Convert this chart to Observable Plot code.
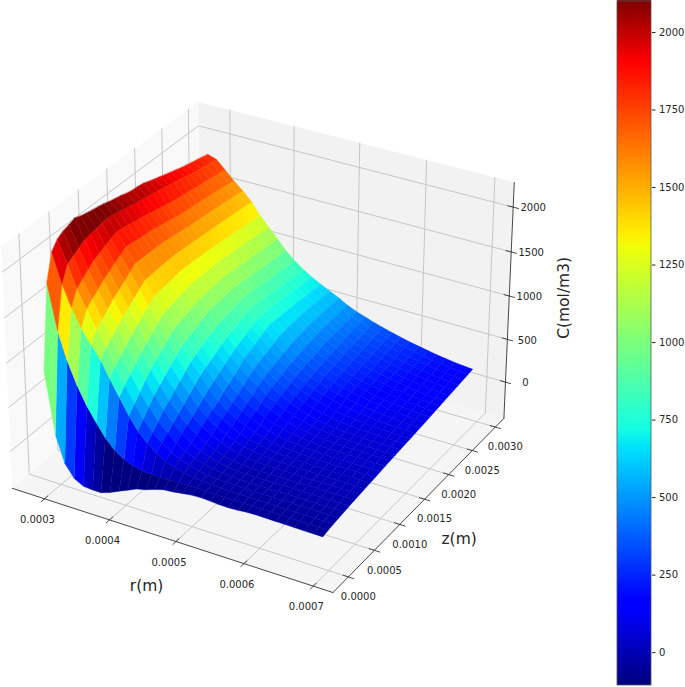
<!DOCTYPE html>
<html><head><meta charset="utf-8">
<script src="https://cdn.jsdelivr.net/npm/d3@7"></script>
<script src="https://cdn.jsdelivr.net/npm/@observablehq/plot@0.6"></script>
<style>
html,body{margin:0;padding:0;background:#fff}
#fig{position:relative;width:685px;height:687px;overflow:hidden}
#fig svg{position:absolute;top:0;overflow:visible;background:transparent}
</style></head><body><div id="fig"></div>
<script>
const rGrid=[0.000280,0.000294,0.000307,0.000321,0.000335,0.000349,0.000362,0.000376,0.000390,0.000403,0.000417,0.000431,0.000444,0.000458,0.000472,0.000486,0.000499,0.000513,0.000527,0.000540,0.000554,0.000568,0.000581,0.000595,0.000609,0.000623,0.000636,0.000650,0.000664,0.000677,0.000691];
const zGrid=[0,0.0001,0.0002,0.0003,0.0004,0.0005,0.0006,0.0007,0.0008,0.0009,0.0010,0.0011,0.0012,0.0013,0.0014,0.0015,0.0016,0.0017,0.0018,0.0019,0.0020,0.0021,0.0022,0.0023,0.0024,0.0025,0.0026,0.0027,0.0028,0.0029,0.0030];
const cRows=[
[823,128,-169,-310,-367,-376,-376,-340,-290,-248,-200,-175,-140,-110,-100,-85,-70,-65,-70,-78,-80,-75,-65,-62,-63,-65,-66,-68,-70,-70,-71],
[1750,1250,950,700,500,340,200,90,20,-20,-45,-55,-58,-55,-50,-50,-50,-50,-50,-52,-52,-52,-52,-52,-53,-53,-53,-54,-54,-55,-55],
[2040,1720,1490,1290,1140,1000,820,640,460,320,210,130,70,30,0,-15,-25,-32,-36,-38,-40,-42,-42,-43,-44,-44,-45,-45,-45,-45,-45],
[2130,1890,1640,1450,1250,1080,900,720,540,400,280,190,120,70,30,0,-15,-25,-30,-32,-34,-35,-35,-35,-35,-35,-35,-35,-35,-35,-35],
[2170,1930,1700,1510,1310,1140,965,790,620,480,350,250,167,105,58,22,0,-15,-22,-25,-27,-28,-27,-27,-26,-26,-26,-26,-26,-26,-26],
[2190,1970,1755,1565,1375,1205,1030,860,700,560,425,310,215,143,88,47,17,-5,-14,-18,-20,-20,-18,-17,-17,-17,-17,-17,-17,-17,-17],
[2215,2010,1810,1620,1440,1270,1100,930,770,620,480,360,260,180,115,70,35,10,-3,-8,-12,-12,-10,-8,-8,-8,-8,-8,-8,-8,-8],
[2190,2022,1840,1662,1490,1322,1155,988,828,678,538,415,310,222,152,104,65,36,19,9,2,0,0,0,0,0,0,0,0,0,-2],
[2175,2035,1870,1705,1540,1375,1210,1045,885,735,595,470,360,265,190,138,95,62,41,26,16,12,10,8,7,6,6,6,6,6,6],
[2162,2047,1900,1748,1590,1428,1265,1103,943,793,652,525,410,308,228,171,125,89,63,43,31,23,20,17,15,14,14,13,13,13,13],
[2150,2060,1930,1790,1640,1480,1320,1160,1000,850,710,580,460,350,265,205,155,115,85,60,45,35,30,25,22,20,20,20,20,20,20],
[2135,2045,1918,1782,1638,1484,1330,1176,1022,878,742,616,500,394,308,241,190,146,111,82,63,50,42,35,30,28,28,28,28,28,28],
[2115,2030,1906,1774,1636,1488,1340,1192,1044,906,774,652,540,438,351,277,225,177,137,104,81,65,54,45,38,36,35,35,35,35,35],
[2100,2015,1894,1766,1634,1492,1350,1208,1066,934,806,688,580,482,394,318,260,208,163,126,99,80,66,55,47,44,42,42,42,42,42],
[2085,2000,1882,1758,1632,1496,1360,1224,1088,962,838,724,620,526,437,359,295,239,189,148,117,95,78,65,56,52,49,49,49,49,49],
[2065,1985,1870,1750,1630,1500,1370,1240,1110,990,870,760,660,570,480,400,330,270,215,170,135,110,90,75,65,60,56,56,56,56,56],
[2050,1972,1854,1736,1620,1494,1366,1240,1114,996,882,780,686,598,506,422,350,290,236,192,157,131,110,94,82,75,69,67,65,64,63],
[2045,1959,1838,1722,1610,1488,1362,1240,1118,1002,894,800,712,626,532,444,370,310,257,214,179,152,130,113,99,90,81,77,73,71,69],
[2035,1946,1822,1708,1600,1482,1358,1240,1122,1008,906,820,738,654,558,466,390,330,278,236,201,173,150,132,116,105,94,88,82,79,76],
[2012,1933,1806,1694,1590,1476,1354,1240,1126,1014,918,840,764,682,584,488,410,350,299,258,223,194,170,151,133,120,107,99,91,87,83],
[1990,1920,1790,1680,1580,1470,1350,1240,1130,1020,930,860,790,710,610,510,430,370,320,280,245,215,190,170,150,135,120,110,100,95,90],
[1970,1904,1780,1672,1573,1464,1342,1232,1122,1012,921,850,782,706,613,519,441,382,332,292,257,227,201,181,161,144,130,119,109,103,98],
[1950,1888,1770,1664,1566,1458,1334,1224,1114,1004,912,840,774,702,616,528,452,394,344,304,269,239,212,192,172,154,140,128,118,111,106],
[1930,1872,1760,1656,1559,1452,1326,1216,1106,996,903,830,766,698,619,537,463,406,356,316,281,251,223,203,183,165,150,137,127,119,114],
[1910,1856,1750,1648,1552,1446,1318,1208,1098,988,894,820,758,694,622,546,474,418,368,328,293,263,234,214,194,178,160,146,136,127,122],
[1890,1840,1740,1640,1545,1440,1310,1200,1090,980,885,810,750,690,625,555,485,430,380,340,305,275,245,225,205,185,170,155,145,135,130],
[1875,1828,1730,1630,1536,1432,1302,1192,1082,972,878,803,743,684,622,556,489,436,389,350,316,286,257,236,216,196,180,165,154,143,138],
[1860,1816,1720,1620,1527,1424,1294,1184,1074,964,871,796,736,678,619,557,493,442,398,360,327,297,269,247,227,207,190,175,163,152,146],
[1845,1804,1710,1610,1518,1416,1286,1176,1066,956,864,789,729,672,616,558,497,448,407,370,338,308,281,258,238,218,200,185,172,161,154],
[1830,1792,1700,1600,1509,1408,1278,1168,1058,948,857,782,722,666,613,559,501,454,416,380,349,319,293,269,249,229,210,195,181,170,162],
[1815,1780,1690,1590,1500,1400,1270,1160,1050,940,850,775,715,660,610,560,505,460,425,390,360,330,305,280,260,240,220,205,190,178,170]
];
const rTicks=[0.0003,0.0004,0.0005,0.0006,0.0007];
const rLabels=["0.0003","0.0004","0.0005","0.0006","0.0007"];
const zTicks=[0,0.0005,0.0010,0.0015,0.0020,0.0025,0.0030];
const zLabels=["0.0000","0.0005","0.0010","0.0015","0.0020","0.0025","0.0030"];
const cTicks=[0,500,1000,1500,2000];
const cLabels=["0","500","1000","1500","2000"];
const barTicks=[0,250,500,750,1000,1250,1500,1750,2000];
const rLim=[0.00025,0.000728], zLim=[-0.000289,0.003189], cLim=[-430,2273];
const colorLim=[-106,2100];
const jetStops=[0,0.11,0.125,0.34,0.35,0.375,0.64,0.65,0.66,0.89,0.91,1];
const jetColors=["#00007f","#0000ff","#0000ff","#00dbff","#00e5f7","#14ffe3","#f0ff08","#f7f600","#ffed00","#ff1300","#ff0000","#7f0000"];
const colorScale={type:"linear",domain:jetStops.map(t=>colorLim[0]+t*(colorLim[1]-colorLim[0])),range:jetColors,interpolate:"rgb",clamp:true};

// matplotlib's default mplot3d camera: elev 30, azim -60, distance 10, box 4:4:3
const hx=0.5714,hy=0.5714,hz=0.4286,elev=30*Math.PI/180,azim=-60*Math.PI/180,dist=10;
const w=[Math.cos(elev)*Math.cos(azim),Math.cos(elev)*Math.sin(azim),Math.sin(elev)];
const uLen=Math.hypot(w[1],w[0]);
const u=[-w[1]/uLen,w[0]/uLen,0];
const v=[w[1]*u[2]-w[2]*u[1],w[2]*u[0]-w[0]*u[2],w[0]*u[1]-w[1]*u[0]];
const norm=(a,l,h)=>(a-l[0])/(l[1]-l[0])*2*h-h;
function project(r,z,c){
  const d=[norm(r,rLim,hx),norm(z,zLim,hy),norm(c,cLim,hz)];
  const dot=a=>a[0]*d[0]+a[1]*d[1]+a[2]*d[2];
  const depth=dist-dot(w);
  return {x:dot(u)/depth,y:dot(v)/depth,depth};
}
const [r0,r1]=rLim,[z0,z1]=zLim,[c0,c1]=cLim;

const paneTable=[];
function pane(id,fill,corners){corners.forEach(p=>paneTable.push({id,fill,...project(...p)}));}
pane("r","#f9f9f9",[[r0,z0,c0],[r0,z1,c0],[r0,z1,c1],[r0,z0,c1]]);
pane("z","#f2f2f2",[[r0,z1,c0],[r1,z1,c0],[r1,z1,c1],[r0,z1,c1]]);
pane("c","#f5f5f5",[[r0,z0,c0],[r1,z0,c0],[r1,z1,c0],[r0,z1,c0]]);

const grid=[];
function seg(table,id,a,b){table.push({id,...project(...a)},{id,...project(...b)});}
rTicks.forEach((t,i)=>{grid.push({id:"rf"+i,...project(t,z0,c0)},{id:"rf"+i,...project(t,z1,c0)},{id:"rf"+i,...project(t,z1,c1)});});
zTicks.forEach((t,i)=>{grid.push({id:"zf"+i,...project(r1,t,c0)},{id:"zf"+i,...project(r0,t,c0)},{id:"zf"+i,...project(r0,t,c1)});});
cTicks.forEach((t,i)=>{grid.push({id:"cf"+i,...project(r0,z0,t)},{id:"cf"+i,...project(r0,z1,t)},{id:"cf"+i,...project(r1,z1,t)});});

const axes=[];
seg(axes,"ar",[r0,z0,c0],[r1,z0,c0]);
seg(axes,"az",[r1,z0,c0],[r1,z1,c0]);
seg(axes,"ac",[r1,z1,c0],[r1,z1,c1]);
const dr=(r1-r0)*0.016,dz=(z1-z0)*0.016;
rTicks.forEach((t,i)=>seg(axes,"tr"+i,[t,z0-dz,c0],[t,z0+dz,c0]));
zTicks.forEach((t,i)=>seg(axes,"tz"+i,[r1-dr,t,c0],[r1+dr,t,c0]));
cTicks.forEach((t,i)=>seg(axes,"tc"+i,[r1-dr,z1,t],[r1+dr,z1,t]));

const rText=rTicks.map((t,i)=>({label:rLabels[i],...project(t,z0,c0)}));
const zText=zTicks.map((t,i)=>({label:zLabels[i],...project(r1,t,c0)}));
const cText=cTicks.map((t,i)=>({label:cLabels[i],...project(r1,z1,t)}));

const quads=[];
for(let j=0;j<zGrid.length-1;j++)for(let i=0;i<rGrid.length-1;i++){
  const corners=[[i,j],[i+1,j],[i+1,j+1],[i,j+1]].map(([a,b])=>project(rGrid[a],zGrid[b],cRows[b][a]));
  const avg=(cRows[j][i]+cRows[j][i+1]+cRows[j+1][i]+cRows[j+1][i+1])/4;
  quads.push({id:j*100+i,avg,corners,depth:d3.mean(corners,p=>p.depth)});
}
quads.sort((a,b)=>b.depth-a.depth);
const surface=quads.flatMap(q=>q.corners.map(p=>({id:q.id,avg:q.avg,x:p.x,y:p.y})));

const font="DejaVu Sans";
const ink="#262626";
const main=Plot.plot({
  width:685,height:687,margin:0,
  style:{fontFamily:font,background:"transparent"},
  x:{domain:[-0.08149,0.13157],range:[0,685],axis:null},
  y:{domain:[0.10432,-0.10936],range:[0,687],axis:null},
  color:colorScale,
  marks:[
    Plot.line(paneTable,{x:"x",y:"y",z:"id",fill:d=>d.fill,stroke:"none",curve:"linear-closed"}),
    Plot.line(grid,{x:"x",y:"y",z:"id",stroke:"#c6c6c6",strokeWidth:1}),
    Plot.line(surface,{x:"x",y:"y",z:"id",fill:"avg",stroke:"avg",strokeWidth:0.4,curve:"linear-closed"}),
    Plot.line(axes,{x:"x",y:"y",z:"id",stroke:"#333",strokeWidth:0.9}),
    Plot.text(rText,{x:"x",y:"y",text:"label",dx:-7,dy:21,fontSize:10,fill:ink}),
    Plot.text(zText,{x:"x",y:"y",text:"label",dx:10,dy:20,fontSize:10,fill:ink}),
    Plot.text(cText,{x:"x",y:"y",text:"label",dx:20,dy:1,fontSize:10,fill:ink}),
    Plot.text([{...project((r0+r1)/2,z0,c0)}],{x:"x",y:"y",text:()=>"r(m)",dx:-22,dy:47,fontSize:15.5,fill:ink}),
    Plot.text([{...project(r1,(z0+z1)/2,c0)}],{x:"x",y:"y",text:()=>"z(m)",dx:37,dy:37,fontSize:15.5,fill:ink}),
    Plot.text([{...project(r1,z1,(c0+c1)/2)}],{x:"x",y:"y",text:()=>"C(mol/m3)",dx:55,dy:-5,rotate:-90,fontSize:15.5,fill:ink})
  ]
});
main.style.left="0px";

const levels=d3.range(colorLim[0],colorLim[1],4);
const bar=Plot.plot({
  width:69,height:687,marginTop:1,marginBottom:2,marginLeft:1,marginRight:34,
  style:{fontFamily:font,fontSize:"10px",background:"transparent",color:ink},
  x:{domain:[0,1],axis:null},
  y:{domain:colorLim,axis:"right",ticks:barTicks,tickSize:3.5,tickPadding:4,tickFormat:d3.format("d"),label:null},
  color:colorScale,
  marks:[
    Plot.rect(levels,{x1:0,x2:1,y1:d=>d,y2:d=>d+4,fill:d=>d,shapeRendering:"crispEdges"}),
    Plot.rect([colorLim],{x1:0,x2:1,y1:d=>d[0],y2:d=>d[1],fill:"none",stroke:"#555",strokeWidth:0.8})
  ]
});
bar.style.left="616px";
const fig=document.getElementById("fig");
fig.append(main,bar);
</script></body></html>
